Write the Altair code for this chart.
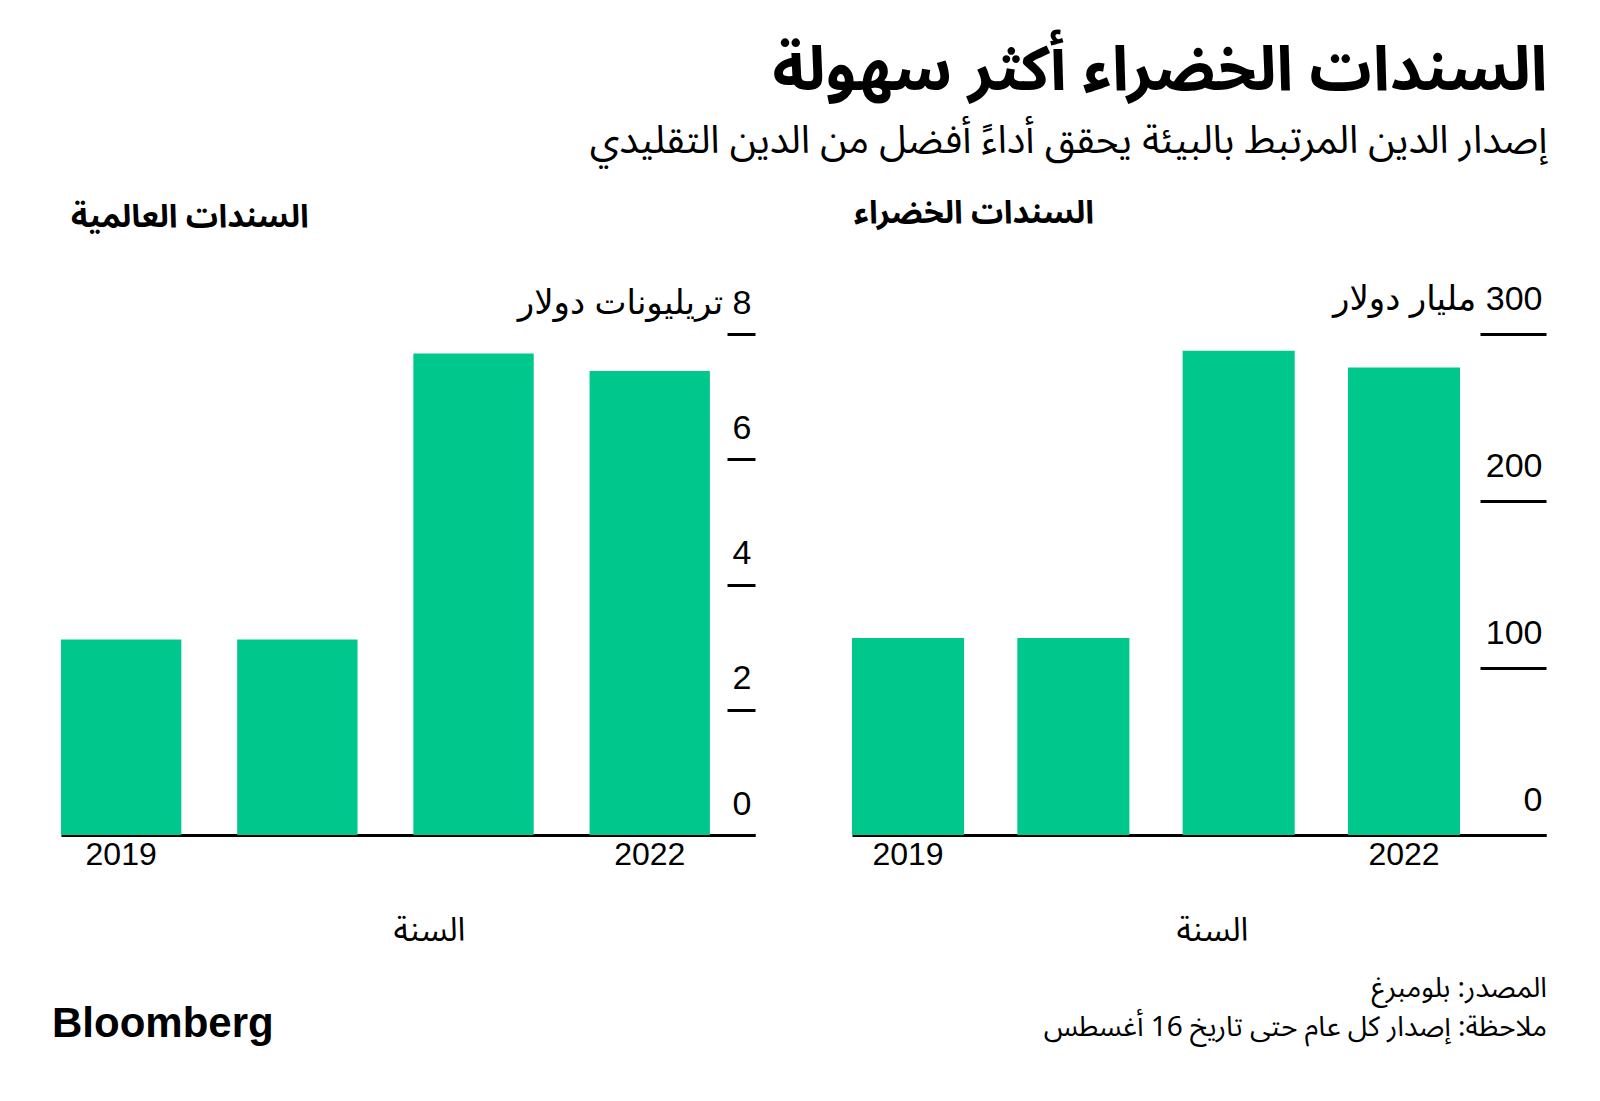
import altair as alt
import pandas as pd

# ---- data ----
years = ["2019", "2020", "2021", "2022"]
green_values = [118, 118, 290, 280]          # مليار دولار
global_values = [3.12, 3.12, 7.69, 7.41]     # تريليونات دولار
green_ticks = [0, 100, 200, 300]
global_ticks = [0, 2, 4, 6, 8]
shown_years = ["2019", "2022"]

title_text = "السندات الخضراء أكثر سهولة"
subtitle_text = "إصدار الدين المرتبط بالبيئة يحقق أداءً أفضل من الدين التقليدي"
left_title = "السندات العالمية"
right_title = "السندات الخضراء"
x_title = "السنة"
global_unit = "تريليونات دولار"
green_unit = "مليار دولار"
source_text = "المصدر: بلومبرغ"
note_text = "ملاحظة: إصدار كل عام حتى تاريخ 16 أغسطس"
logo_text = "Bloomberg"

AR = "Noto Sans Arabic, DejaVu Sans, sans-serif"
NUM = "Liberation Sans, Arial, DejaVu Sans, sans-serif"
GREEN = "#00C78C"
RLE, PDF = "\u202B", "\u202C"

global_df = pd.DataFrame({"year": years, "value": global_values})
green_df = pd.DataFrame({"year": years, "value": green_values})


def panel(df, ticks, unit, title, pad_inner, pad_outer, tick_len, label_off, title_x, title_dx):
    top = ticks[-1]
    top_label = RLE + f"{top} " + unit + PDF
    return alt.Chart(df).mark_bar(color=GREEN).encode(
        x=alt.X(
            "year:O",
            title=x_title,
            scale=alt.Scale(paddingInner=pad_inner, paddingOuter=pad_outer, align=0),
            axis=alt.Axis(
                values=shown_years,
                labelAngle=0,
                labelFont=NUM,
                labelFontSize=32,
                labelColor="black",
                labelPadding=4,
                labelBaseline="top",
                ticks=False,
                tickSize=0,
                domain=True,
                domainColor="black",
                domainWidth=3,
                titleFont=AR,
                titleFontSize=33,
                titleFontWeight="normal",
                titleColor="black",
                titlePadding=44,
                titleX=title_x,
                titleAlign="center",
            ),
        ),
        y=alt.Y(
            "value:Q",
            title=None,
            scale=alt.Scale(domain=[0, top], nice=False),
            axis=alt.Axis(
                orient="right",
                values=ticks,
                offset=-tick_len,
                tickSize=tick_len,
                tickWidth=3,
                tickColor="black",
                domain=False,
                grid=False,
                labelFont=NUM,
                labelFontSize=34,
                labelColor="black",
                labelAlign="right",
                labelBaseline="alphabetic",
                labelPadding=-4,
                labelOffset=label_off,
                labelLimit=0,
                labelExpr=f"datum.value == {top} ? '{top_label}' : datum.label",
            ),
        ),
    ).properties(
        width=694,
        height=501,
        title=alt.TitleParams(
            title,
            anchor="start",
            font=AR,
            fontSize=32,
            fontWeight="bold",
            color="black",
            offset=52,
            dx=title_dx,
        ),
    )


left = panel(global_df, global_ticks, global_unit, left_title, 0.317, 0.128, 28, -21, 368, 10)
right = panel(green_df, green_ticks, green_unit, right_title, 0.322, 0.26, 66, -25, 360, 2)

top_row = alt.hconcat(left, right, spacing=95).properties(
    title=alt.TitleParams(
        title_text,
        subtitle=subtitle_text,
        anchor="end",
        font=AR,
        fontSize=62,
        fontWeight="bold",
        color="black",
        subtitleFont=AR,
        subtitleFontSize=39,
        subtitleColor="black",
        subtitlePadding=19,
        offset=35,
    )
)

src_df = pd.DataFrame({"t": [source_text]})
note_df = pd.DataFrame({"t": [note_text]})
logo_df = pd.DataFrame({"t": [logo_text]})

src = alt.Chart(src_df).mark_text(
    align="right", baseline="middle", font=AR, fontSize=28, color="black"
).encode(x=alt.value(1486), y=alt.value(24), text="t:N")
note = alt.Chart(note_df).mark_text(
    align="right", baseline="middle", font=AR, fontSize=28, color="black"
).encode(x=alt.value(1486), y=alt.value(63), text="t:N")
logo = alt.Chart(logo_df).mark_text(
    align="left", baseline="middle", font=NUM, fontSize=42, fontWeight="bold", color="black"
).encode(x=alt.value(-9), y=alt.value(59), text="t:N")

footer = alt.layer(src, note, logo).properties(width=1486, height=100)

chart = alt.vconcat(top_row, footer, spacing=18).properties(
    padding={"left": 44, "top": 32, "right": 14, "bottom": 10},
    background="white",
).configure_view(stroke=None)

chart.save("out.html", embed_options={"renderer": "svg", "actions": False})
